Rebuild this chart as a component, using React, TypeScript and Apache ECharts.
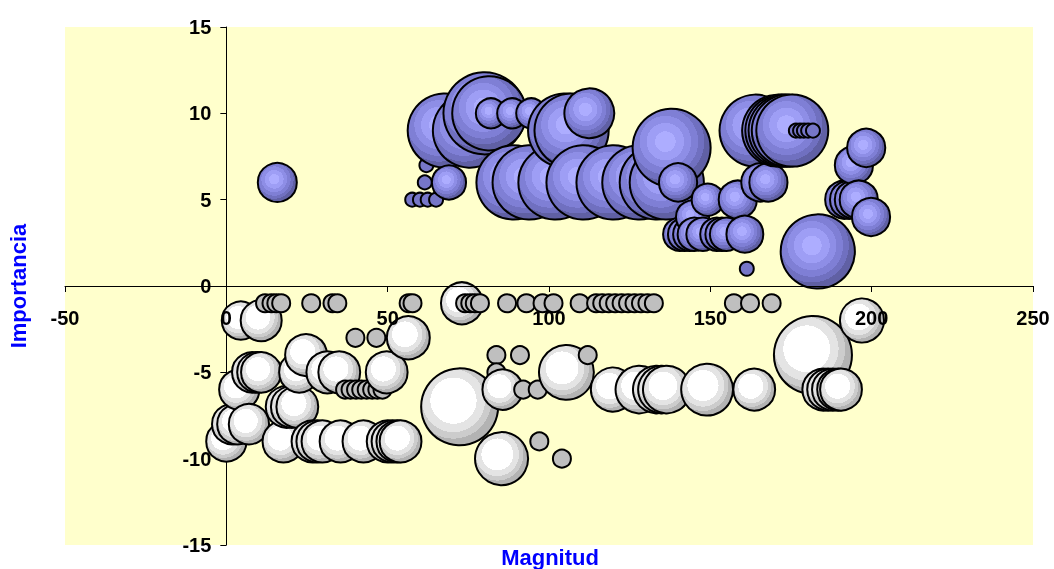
import React, { useEffect, useRef } from "react";
import * as echarts from "echarts";

// Serie positiva (azul): Magnitud, Importancia, tamaño de burbuja
const blueMagnitud = [
  15.8, 57.6, 60, 62.4, 65, 61.5, 62, 67.7, 69, 75.5, 80, 81.5, 82, 88.6, 94.5,
  89, 94, 102, 105, 107, 110.7, 112.5, 120, 128, 133.4, 136.5, 138, 140,
  140.5, 142, 143.6, 144.5, 145, 147.7, 149.2, 152, 153.6, 155, 158.5, 160.7,
  161.3, 164, 165.5, 168, 171, 172, 173, 174, 175.4, 176.5, 177.8, 179, 180.3,
  181.8, 183.3, 191.5, 193, 194.5, 194.5, 196, 198.3, 199.8,
];
const blueImportancia = [
  6, 5, 5, 5, 5, 6, 7, 9, 6, 9, 10, 10, 10, 10, 10,
  6, 6, 6, 9, 9, 6, 10, 6, 6, 6, 6, 8, 6,
  3, 3, 3, 4, 3, 3, 5, 3, 3, 3, 5, 3,
  1, 9, 6, 6, 9, 9, 9, 9, 9, 9, 9, 9, 9,
  9, 2, 5, 5, 5, 7, 5, 8, 4,
];
const blueTamano = [
  4.7, 0.6, 0.6, 0.6, 0.6, 0.6, 0.6, 17, 3.6, 17, 20.8, 17, 2.8, 2.8, 2.8,
  17, 17, 17, 17, 17, 17, 7.7, 17, 17, 17, 17, 18.8, 4.5,
  3.4, 3.4, 3.4, 3.4, 3.4, 3.4, 3.2, 3.4, 3.4, 3.4, 4.5, 4.2,
  0.6, 16, 4.5, 4.5, 16, 16, 16, 16, 16, 0.6, 0.6, 0.6, 0.6,
  0.6, 17, 4.5, 4.5, 4.5, 4.5, 4.5, 4.5, 4.5,
];

// Serie negativa (blanca)
const whiteMagnitud = [
  12, 14, 15.5, 17, 26.3, 32.9, 34.4, 56.5, 57.7, 74, 75.6, 77, 78.6, 87, 93,
  98, 101.4, 109.5, 114.6, 116.5, 118.5, 120.5, 122.5, 124.5, 126.5, 128.5,
  130.5, 132.5, 157.3, 162.3, 169,
  73,
  4.5, 10.8, 197,
  40, 46.5, 56.4,
  24.7, 83.7, 91, 112, 181.8,
  8, 9.6, 10.8, 22.6, 31.3, 35, 49.7, 83.7, 105.4,
  4, 36.8, 38.5, 40.2, 41.8, 43.5, 45.2, 46.8, 48.4, 85.6, 92, 96.5, 119.8, 128,
  133.4, 135, 136.5, 149, 163.6, 185, 186.5, 188, 189.6, 190.5,
  18.7, 20.3, 22, 72.3,
  1.8, 3.4, 7,
  0, 17.7, 26.7, 28.2, 29.8, 35.4, 42.5, 50, 51.5, 53, 54, 97,
  85.3, 104,
];
const whiteImportancia = [
  -1, -1, -1, -1, -1, -1, -1, -1, -1, -1, -1, -1, -1, -1, -1,
  -1, -1, -1, -1, -1, -1, -1, -1, -1, -1, -1,
  -1, -1, -1, -1, -1,
  -1,
  -2, -2, -2,
  -3, -3, -3,
  -4, -4, -4, -4, -4,
  -5, -5, -5, -5, -5, -5, -5, -5, -5,
  -6, -6, -6, -6, -6, -6, -6, -6, -6, -6, -6, -6, -6, -6,
  -6, -6, -6, -6, -6, -6, -6, -6, -6, -6,
  -7, -7, -7, -7,
  -8, -8, -8,
  -9, -9, -9, -9, -9, -9, -9, -9, -9, -9, -9, -9,
  -10, -10,
];
const whiteTamano = [
  1, 1, 1, 1, 1, 1, 1, 1, 1, 1, 1, 1, 1, 1, 1,
  1, 1, 1, 1, 1, 1, 1, 1, 1, 1, 1,
  1, 1, 1, 1, 1,
  5.4,
  4.5, 5.2, 6,
  1, 1, 5.7,
  5.4, 1, 1, 1, 18.8,
  5, 5, 5, 5, 5.4, 5.4, 5.4, 1, 9.3,
  5, 1, 1, 1, 1, 1, 1, 1, 1, 5, 1, 1, 6, 7,
  7, 7, 7, 8.3, 5.4, 5.4, 5.4, 5.4, 5.4, 5.4,
  5.4, 5.4, 5.4, 18.3,
  5, 5, 5,
  5, 5.4, 5.4, 5.4, 5.4, 5.4, 5.4, 5.4, 5.4, 5.4, 5.4, 1,
  8.7, 1,
];

const X_MIN = -50;
const X_MAX = 250;
const Y_MIN = -15;
const Y_MAX = 15;

const FONT = '"Liberation Sans", Arial, sans-serif';

const GRID = { left: 65, right: 21, top: 27, bottom: 24 };
const CHART_W = 1054;
const CHART_H = 569;

const bubbleDiameter = (w: number) => 18 * Math.sqrt(w);

function stepped(colors: string[], edges: number[]) {
  const stops: { offset: number; color: string }[] = [];
  colors.forEach((c, i) => {
    stops.push({ offset: i === 0 ? 0 : edges[i - 1], color: c });
    stops.push({ offset: i === colors.length - 1 ? 1 : edges[i], color: c });
  });
  return stops;
}

const blueGradient = new echarts.graphic.RadialGradient(
  0.42,
  0.42,
  0.6,
  stepped(
    ["#adadff", "#9e9ef5", "#8e8ee6", "#7f7fd5", "#7070c0", "#6060a4"],
    [0.22, 0.4, 0.55, 0.7, 0.83]
  )
);
const whiteGradient = new echarts.graphic.RadialGradient(
  0.42,
  0.42,
  0.6,
  stepped(["#ffffff", "#e4e4e4", "#cccccc", "#b3b3b3"], [0.5, 0.68, 0.82])
);

function buildData(
  xs: number[],
  ys: number[],
  ws: number[],
  gradient: any,
  flat: string
) {
  return xs
    .map((x, i) => [x, ys[i], ws[i]])
    .sort((a, b) => a[0] - b[0])
    .map((v) => ({
      value: v,
      itemStyle: { color: v[2] < 1.5 ? flat : gradient },
    }));
}

export default function App() {
  const ref = useRef<HTMLDivElement>(null);
  useEffect(() => {
    const chart = echarts.init(ref.current!, null, { renderer: "svg" });
    const plotW = CHART_W - GRID.left - GRID.right;
    const plotH = CHART_H - GRID.top - GRID.bottom;
    // axes cross at the origin: shift them from the grid edges
    const yAxisOffset = -((0 - X_MIN) / (X_MAX - X_MIN)) * plotW;
    const xAxisOffset = -((0 - Y_MIN) / (Y_MAX - Y_MIN)) * plotH;
    const labelStyle = {
      color: "#000",
      fontSize: 20,
      fontWeight: "bold" as const,
      fontFamily: FONT,
    };
    chart.setOption({
      animation: false,
      grid: {
        ...GRID,
        show: true,
        backgroundColor: "#FFFFCC",
        borderWidth: 0,
        containLabel: false,
        outerBoundsMode: "none",
      },
      xAxis: {
        type: "value",
        min: X_MIN,
        max: X_MAX,
        interval: 50,
        position: "bottom",
        offset: xAxisOffset,
        z: 3,
        axisLine: { onZero: false, lineStyle: { color: "#000", width: 1 } },
        axisTick: { show: true, length: 6, lineStyle: { color: "#000" } },
        splitLine: { show: false },
        axisLabel: { ...labelStyle, margin: 22 },
      },
      yAxis: {
        type: "value",
        min: Y_MIN,
        max: Y_MAX,
        interval: 5,
        position: "left",
        offset: yAxisOffset,
        axisLine: { onZero: false, lineStyle: { color: "#000", width: 1 } },
        axisTick: { show: true, length: 6, lineStyle: { color: "#000" } },
        splitLine: { show: false },
        axisLabel: { ...labelStyle, margin: 15 },
      },
      graphic: [
        {
          type: "text",
          x: 18,
          y: 286,
          rotation: Math.PI / 2,
          style: {
            text: "Importancia",
            fill: "#0000FF",
            fontSize: 22,
            fontWeight: "bold",
            fontFamily: FONT,
            align: "center",
            verticalAlign: "middle",
          },
        },
        {
          type: "text",
          x: 550,
          y: 557,
          style: {
            text: "Magnitud",
            fill: "#0000FF",
            fontSize: 22,
            fontWeight: "bold",
            fontFamily: FONT,
            align: "center",
            verticalAlign: "middle",
          },
        },
      ],
      series: [
        {
          type: "scatter",
          name: "Positiva",
          data: buildData(
            blueMagnitud,
            blueImportancia,
            blueTamano,
            blueGradient,
            "#7676c8"
          ),
          symbolSize: (v: number[]) => bubbleDiameter(v[2]),
          itemStyle: { borderColor: "#000", borderWidth: 2, opacity: 1 },
          emphasis: { disabled: true },
        },
        {
          type: "scatter",
          name: "Negativa",
          data: buildData(
            whiteMagnitud,
            whiteImportancia,
            whiteTamano,
            whiteGradient,
            "#bfbfbf"
          ),
          symbolSize: (v: number[]) => bubbleDiameter(v[2]),
          itemStyle: { borderColor: "#000", borderWidth: 2, opacity: 1 },
          emphasis: { disabled: true },
        },
      ],
    });
    return () => chart.dispose();
  }, []);
  return (
    <div
      ref={ref}
      style={{
        position: "fixed",
        left: 0,
        top: 0,
        width: CHART_W,
        height: CHART_H,
      }}
    />
  );
}
